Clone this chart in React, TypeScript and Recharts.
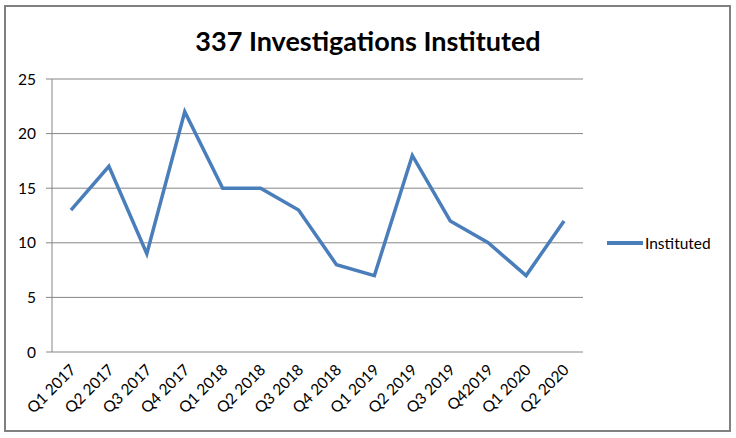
import React from "react";
import { LineChart, Line, XAxis, YAxis, CartesianGrid } from "recharts";

// ── Data ──
const QUARTERS = [
  "Q1 2017", "Q2 2017", "Q3 2017", "Q4 2017",
  "Q1 2018", "Q2 2018", "Q3 2018", "Q4 2018",
  "Q1 2019", "Q2 2019", "Q3 2019", "Q42019",
  "Q1 2020", "Q2 2020",
];
const INSTITUTED = [13, 17, 9, 22, 15, 15, 13, 8, 7, 18, 12, 10, 7, 12];
const Y_TICKS = [0, 5, 10, 15, 20, 25];

// ── Style tokens ──
const BLUE = "#4a7ebb";
const GRID = "#868686";
const FONT = "Lato, 'Open Sans', sans-serif";

// x = slot centre, so tick marks can sit between categories like Excel
const data = QUARTERS.map((q, i) => ({ x: i + 0.5, q, value: INSTITUTED[i] }));
const boundaryTicks = QUARTERS.map((_, i) => i).concat(QUARTERS.length);
const centreTicks = data.map((d) => d.x);

function QuarterTick({ x, y, payload }: any) {
  const label = QUARTERS[Math.floor(payload.value)];
  return (
    <g transform={`translate(${x + 2},${y + 13})`}>
      <text transform="rotate(-45)" textAnchor="end" fontSize={15.5} fill="#000" fontFamily={FONT} dy="0.35em">
        {label}
      </text>
    </g>
  );
}

export default function App() {
  return (
    <div style={{ position: "fixed", left: 0, top: 0, width: 736, height: 438, background: "#fff" }}>
      <div
        style={{
          position: "absolute",
          left: 4,
          top: 5,
          width: 723,
          height: 423,
          border: "2px solid #808080",
        }}
      />
      <div
        style={{
          position: "absolute",
          left: 0,
          top: 24,
          width: 736,
          textAlign: "center",
          fontFamily: FONT,
          fontWeight: 700,
          fontSize: 27,
          color: "#000",
        }}
      >
        337 Investigations Instituted
      </div>
      <div
        style={{
          position: "absolute",
          left: 607,
          top: 234,
          display: "flex",
          alignItems: "center",
          fontFamily: FONT,
          fontSize: 15.5,
          color: "#000",
        }}
      >
        <span style={{ display: "inline-block", width: 36, height: 4, background: BLUE, marginRight: 2 }} />
        Instituted
      </div>
      <div style={{ position: "absolute", left: 0, top: 0 }}>
        <LineChart width={736} height={438} data={data} margin={{ top: 79, right: 153, left: 22, bottom: 0 }}>
          <CartesianGrid horizontal vertical={false} stroke={GRID} yAxisId="y" xAxisId="a" />
          <XAxis
            xAxisId="a"
            dataKey="x"
            type="number"
            domain={[0, QUARTERS.length]}
            ticks={boundaryTicks}
            tickFormatter={() => ""}
            height={0}
            tickSize={5}
            stroke={GRID}
            interval={0}
          />
          <XAxis
            xAxisId="b"
            dataKey="x"
            type="number"
            domain={[0, QUARTERS.length]}
            ticks={centreTicks}
            height={86}
            axisLine={false}
            tickLine={false}
            tickSize={0}
            tick={<QuarterTick />}
            interval={0}
          />
          <YAxis
            yAxisId="y"
            domain={[0, 25]}
            ticks={Y_TICKS}
            width={30}
            tickSize={6}
            tickMargin={10}
            stroke={GRID}
            tick={{ fill: "#000", fontSize: 15.5, fontFamily: FONT }}
          />
          <Line
            xAxisId="a"
            yAxisId="y"
            dataKey="value"
            name="Instituted"
            stroke={BLUE}
            strokeWidth={3.5}
            dot={false}
            type="linear"
            isAnimationActive={false}
          />
        </LineChart>
      </div>
    </div>
  );
}
